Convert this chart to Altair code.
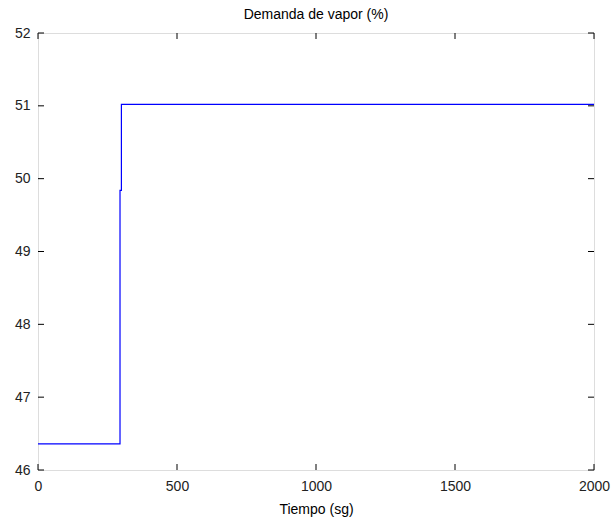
import altair as alt
import pandas as pd

# Step response of steam demand over time
tiempo = [0, 295, 295, 300, 300, 2000]
demanda = [46.36, 46.36, 49.84, 49.84, 51.02, 51.02]

x_ticks = [0, 500, 1000, 1500, 2000]
y_ticks = [46, 47, 48, 49, 50, 51, 52]

W, H = 556, 437
TICK = 6
FONT = "Liberation Sans"

df = pd.DataFrame({"t": tiempo, "d": demanda})
xt = pd.DataFrame({"t": x_ticks})
yt = pd.DataFrame({"d": y_ticks})

xs = alt.Scale(domain=[0, 2000], nice=False, zero=False)
ys = alt.Scale(domain=[46, 52], nice=False, zero=False)

axis_text = dict(labelFont=FONT, labelFontSize=14, labelColor="#222222",
                 titleFont=FONT, titleFontSize=14, titleFontWeight="normal",
                 titleColor="#000000", labelFlush=False, labelOverlap=False)

line = alt.Chart(df).mark_line(color="#0000ff", strokeWidth=1.2, interpolate="linear").encode(
    x=alt.X("t:Q", scale=xs, axis=alt.Axis(
        values=x_ticks, title="Tiempo (sg)", grid=False, domain=False, ticks=False,
        tickSize=0, labelPadding=9, titlePadding=9, format="d", **axis_text)),
    y=alt.Y("d:Q", scale=ys, axis=alt.Axis(
        values=y_ticks, title=None, grid=False, domain=False, ticks=False,
        tickSize=0, labelPadding=8, format="d", **axis_text)),
)

tick_style = dict(color="#000000", strokeWidth=1)

bottom = alt.Chart(xt).mark_rule(**tick_style).encode(
    x=alt.X("t:Q", scale=xs), y=alt.value(H), y2=alt.value(H - TICK))
top = alt.Chart(xt).mark_rule(**tick_style).encode(
    x=alt.X("t:Q", scale=xs), y=alt.value(0), y2=alt.value(TICK))
left = alt.Chart(yt).mark_rule(**tick_style).encode(
    y=alt.Y("d:Q", scale=ys), x=alt.value(0), x2=alt.value(TICK))
right = alt.Chart(yt).mark_rule(**tick_style).encode(
    y=alt.Y("d:Q", scale=ys), x=alt.value(W), x2=alt.value(W - TICK))

chart = alt.layer(line, bottom, top, left, right).properties(
    width=W, height=H,
    title=alt.TitleParams("Demanda de vapor (%)", anchor="middle", offset=4,
                          font=FONT, fontSize=14, fontWeight="normal", color="#000000"),
    autosize=alt.AutoSizeParams(type="none"),
    padding={"left": 38, "top": 33, "right": 20, "bottom": 54},
).configure_view(
    stroke="#000000", strokeWidth=1
).configure(background="#ffffff")

chart.save("out.html", embed_options={"renderer": "svg", "actions": False})
